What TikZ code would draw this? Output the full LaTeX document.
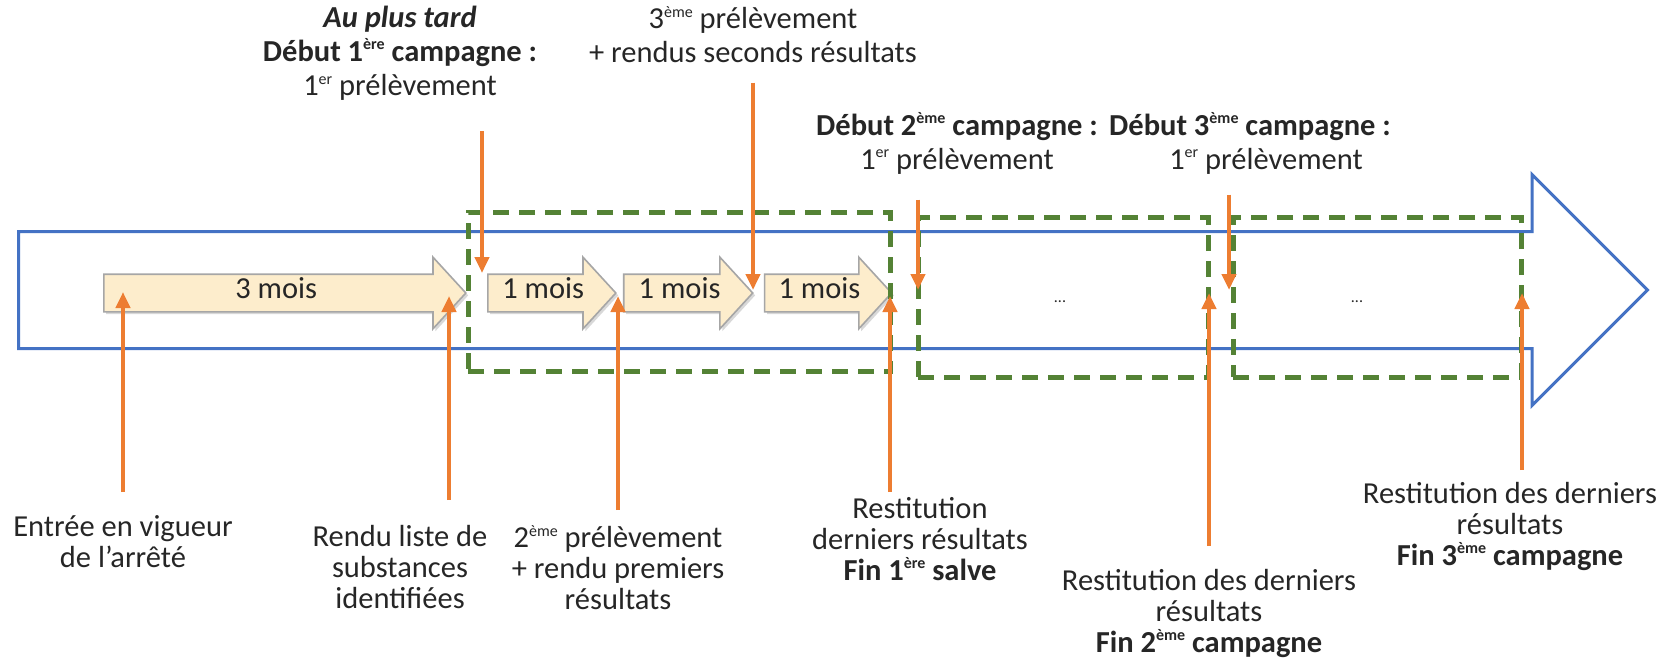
\documentclass[tikz,border=0pt]{standalone}
\usepackage{fontspec}
\setmainfont{Carlito}
\usepackage{xcolor}
\usepackage{tikz}
\usetikzlibrary{arrows.meta,positioning,shapes.arrows}
\usetikzlibrary{shadows,fit}

\definecolor{tlblue}{HTML}{4472C4}
\definecolor{campgreen}{HTML}{548235}
\definecolor{evtorange}{HTML}{ED7D31}
\definecolor{moisfill}{HTML}{FDEDCC}
\definecolor{moisline}{HTML}{A6A6A6}
\definecolor{txt}{HTML}{262626}

\newcommand{\expo}[1]{\raisebox{0.8ex}{\fontsize{8}{8}\selectfont #1}}

\begin{document}
\begin{tikzpicture}[
    x=0.5pt, y=-0.5pt,
    font=\fontsize{15.25}{17}\selectfont, text=txt,
    timeline/.style={single arrow, draw=tlblue, line width=1.5pt, fill=white,
        single arrow tip angle=90, single arrow head extend=28.5pt,
        inner xsep=0pt, inner ysep=28.5pt, text height=0pt, text depth=0pt,
        minimum height=814.5pt, anchor=tail},
    mois/.style={single arrow, draw=moisline, line width=0.8pt, fill=moisfill,
        single arrow tip angle=95, single arrow head extend=8.5pt,
        inner xsep=0pt, inner ysep=4.5pt, text height=7pt, text depth=2pt,
        drop shadow={opacity=0.3, shadow xshift=1.2pt, shadow yshift=-1.2pt}},
    campbox/.style={draw=campgreen, line width=2.5pt, dash pattern=on 8pt off 5pt, inner sep=0pt},
    evt/.style={-{Triangle[length=8pt, width=7pt]}, draw=evtorange, line width=2pt},
    toplbl/.style={align=center, anchor=north, inner sep=0pt},
    botlbl/.style={align=center, anchor=north, inner sep=0pt, font=\fontsize{15.25}{15.5}\selectfont},
]
\useasboundingbox (0,0) rectangle (1668,659);

% ---------- Timeline ----------
\node[timeline] (axe) at (17,290) {};

% ---------- Durations ----------
\node[mois, minimum height=181pt, anchor=tail] (m0) at (103,293) {3 mois};
\node[mois, minimum height=64pt, anchor=tail] (m1) at (487,293) {1 mois};
\node[mois, minimum height=64.5pt, right=3pt of m1] (m2) {1 mois};
\node[mois, minimum height=63.5pt, right=5pt of m2] (m3) {1 mois};

% ---------- Campaigns (dashed) ----------
\node[campbox, fit={(468,212) (890,371)}] (camp1) {};
\node[campbox, fit={(918,217) (1208,377)}] (camp2) {};
\node[campbox, fit={(1233,217) (1521,377)}] (camp3) {};
\node[font=\fontsize{8}{9}\selectfont] (dots2) at (1060,302) {...};
\node[font=\fontsize{8}{9}\selectfont] (dots3) at (1357,302) {...};

% ---------- Event points on the timeline ----------
\coordinate (p1) at (123,292);
\coordinate (p2) at (449,296);
\coordinate (p3) at (482,273);
\coordinate (p4) at (618,296);
\coordinate (p5) at (753,290);
\coordinate (p6) at (890,296);
\coordinate (p7) at (918,290);
\coordinate (p8) at (1209,293);
\coordinate (p9) at (1229,290);
\coordinate (p10) at (1522,293);

% ---------- Labels above ----------
\node[toplbl] (debut1) at (400,6) {\textbf{\textit{Au plus tard}}\\\textbf{Début 1\expo{ère} campagne :}\\1\expo{er} prélèvement};
\node[toplbl] (troisieme) at (753,6) {3\expo{ème} prélèvement\\+ rendus seconds résultats};
\node[toplbl] (debut2) at (957,112) {\textbf{Début 2\expo{ème} campagne :}\\1\expo{er} prélèvement};
\node[toplbl] (debut3) at (1250,112) {\textbf{Début 3\expo{ème} campagne :}\\\hspace*{16pt}1\expo{er} prélèvement};

% ---------- Labels below ----------
\node[botlbl] (entree) at (123,515) {Entrée en vigueur\\de l’arrêté};
\node[botlbl] (rendu) at (400,525) {Rendu liste de\\substances\\identifiées};
\node[botlbl] (second) at (618,525) {2\expo{ème} prélèvement\\+ rendu premiers\\résultats};
\node[botlbl] (resti1) at (920,497) {Restitution\\derniers résultats\\\textbf{Fin 1\expo{ère} salve}};
\node[botlbl] (resti2) at (1209,569) {Restitution des derniers\\résultats\\\textbf{Fin 2\expo{ème} campagne}};
\node[botlbl] (resti3) at (1510,482) {Restitution des derniers\\résultats\\\textbf{Fin 3\expo{ème} campagne}};

% ---------- Arrows: from above ----------
\draw[evt, shorten <=15pt] (debut1.south -| p3) -- (p3);
\draw[evt, shorten <=9.5pt] (troisieme.south -| p5) -- (p5);
\draw[evt, shorten <=12.5pt] (debut2.south -| p7) -- (p7);
\draw[evt, shorten <=10pt] (debut3.south -| p9) -- (p9);

% ---------- Arrows: from below ----------
\draw[evt, shorten <=11.5pt] (entree.north -| p1) -- (p1);
\draw[evt, shorten <=12.5pt] (rendu.north -| p2) -- (p2);
\draw[evt, shorten <=7.5pt] (second.north -| p4) -- (p4);
\draw[evt, shorten <=2.5pt] (resti1.north -| p6) -- (p6);
\draw[evt, shorten <=11.5pt] (resti2.north -| p8) -- (p8);
\draw[evt, shorten <=6pt] (resti3.north -| p10) -- (p10);

\end{tikzpicture}
\end{document}
